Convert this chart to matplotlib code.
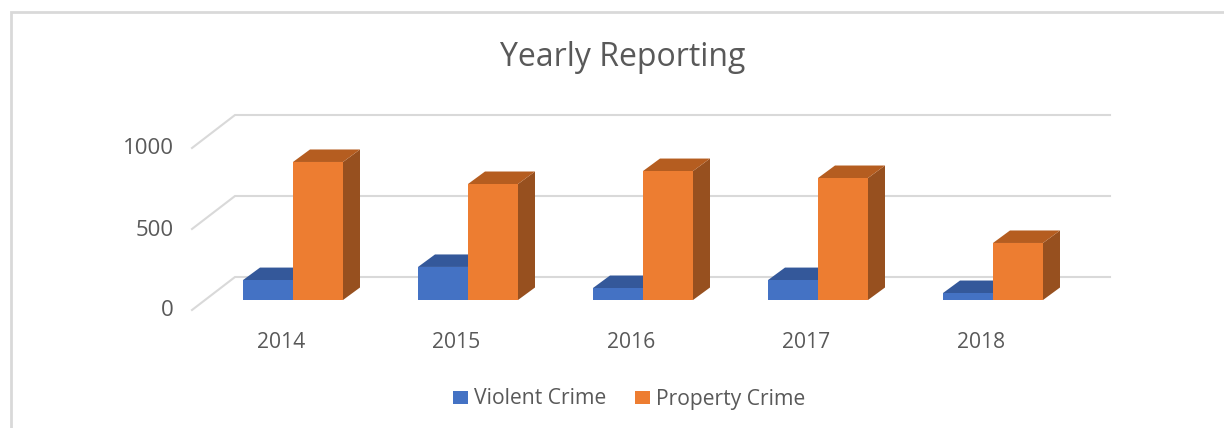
import matplotlib
matplotlib.use("Agg")
import matplotlib.pyplot as plt
from matplotlib.patches import Polygon, Rectangle

years = ["2014", "2015", "2016", "2017", "2018"]
violent = [123, 204, 74, 123, 43]
prop = [852, 716, 796, 753, 352]
series = [("Violent Crime", violent, "#4472C4", "#345896", -1),
          ("Property Crime", prop, "#ED7D31", "#97501F", 0)]
y_ticks = [0, 500, 1000]

W, H = 1224, 428
PX_X = 175.0          # pixels per category
PX_Y = 81 / 500       # pixels per value unit
X0, Y0 = 293, 300     # pixel of category 0 / value 0 on the bar front plane
BAR = 50 / PX_X
DX, DY = 17 / PX_X, 12.5 / PX_Y   # depth of a bar
TEXT = "#595959"
FONT = "Open Sans"

fig = plt.figure(figsize=(W / 100, H / 100), dpi=100, facecolor="white")
ax = fig.add_axes([0, 0, 1, 1])
ax.set_xlim(-X0 / PX_X, (W - X0) / PX_X)
ax.set_ylim((Y0 - H) / PX_Y, Y0 / PX_Y)
ax.axis("off")

# gridlines: side wall + back wall
for t in y_ticks:
    y_front = t - 10 / PX_Y
    y_back = t + 23 / PX_Y
    ax.plot([-101 / PX_X, -58 / PX_X, 817 / PX_X], [y_front, y_back, y_back],
            color="#D9D9D9", lw=1.5, zorder=1, solid_joinstyle="miter")

for (name, vals, front, dark, off) in series:
    top = "#34589A" if off else "#B55D20"
    for i, v in enumerate(vals):
        x0 = i + off * BAR
        x1 = x0 + BAR
        ax.add_patch(Polygon([(x1, 0), (x1 + DX, DY), (x1 + DX, v + DY), (x1, v)],
                             fc=dark, ec="none", zorder=3 + off))
        ax.add_patch(Polygon([(x0, v), (x0 + DX, v + DY), (x1 + DX, v + DY), (x1, v)],
                             fc=top, ec="none", zorder=3 + off))
        ax.add_patch(Rectangle((x0, 0), BAR, v, fc=front, ec="none", zorder=4 + off))

# tick labels
for t in y_ticks:
    ax.text(174 / PX_X - X0 / PX_X, t - 11 / PX_Y, str(t), ha="right", va="center",
            fontsize=16, color=TEXT, family=FONT)
for i, y in enumerate(years):
    ax.text(i - 11.5 / PX_X, -42 / PX_Y, y, ha="center", va="center",
            fontsize=15.2, color=TEXT, family=FONT)

# title
ax.text((622.5 - X0) / PX_X, (Y0 - 58) / PX_Y, "Yearly Reporting", ha="center", va="center",
        fontsize=23, color=TEXT, family=FONT)

# legend
for (name, vals, front, dark, off), sx, tx in zip(series, (453, 635), (474, 656)):
    ax.add_patch(Rectangle(((sx - X0) / PX_X, (Y0 - 404) / PX_Y), 15 / PX_X, 13 / PX_Y,
                           fc=front, ec="none"))
    ax.text((tx - X0) / PX_X, (Y0 - 399) / PX_Y, name, ha="left", va="center",
            fontsize=15.2, color=TEXT, family=FONT)

# chart frame
ax.plot([(10.5 - X0) / PX_X, (10.5 - X0) / PX_X, (W - X0) / PX_X],
        [(Y0 - 428) / PX_Y, (Y0 - 11.5) / PX_Y, (Y0 - 11.5) / PX_Y],
        color="#D9D9D9", lw=2, solid_joinstyle="miter", zorder=1)

fig.savefig("out.png", dpi=100)
